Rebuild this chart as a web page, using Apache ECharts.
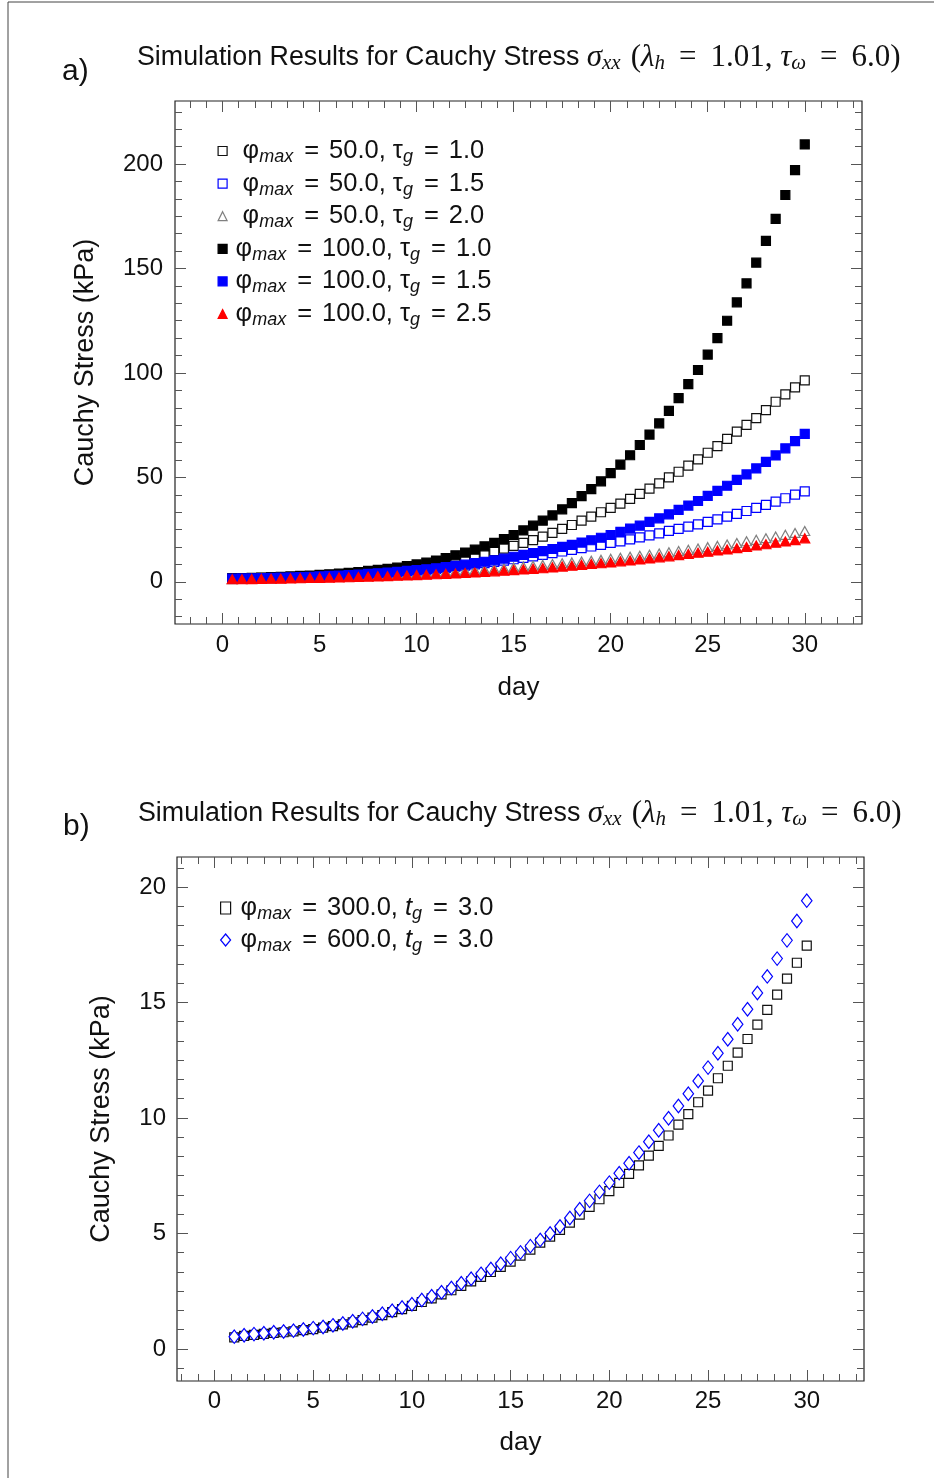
<!DOCTYPE html>
<html><head><meta charset="utf-8">
<script src="https://cdn.jsdelivr.net/npm/echarts@6/dist/echarts.min.js"></script>
<style>html,body{margin:0;padding:0;background:#fff}#c{width:934px;height:1478px}</style>
</head><body><div id="c"></div>
<script>
// ---------- DATA ----------
const daysA = [0.5,1,1.5,2,2.5,3,3.5,4,4.5,5,5.5,6,6.5,7,7.5,8,8.5,9,9.5,10,
  10.5,11,11.5,12,12.5,13,13.5,14,14.5,15,15.5,16,16.5,17,17.5,18,18.5,19,19.5,20,
  20.5,21,21.5,22,22.5,23,23.5,24,24.5,25,25.5,26,26.5,27,27.5,28,28.5,29,29.5,30];
// phi_max = 50.0, tau_g = 1.0 (open black squares)
const a_50_10 = [1.6,1.7,1.8,1.9,2.0,2.1,2.3,2.5,2.7,2.9, 3.1,3.4,3.7,4.1,4.5,4.9,5.4,5.9,6.5,7.2,
  7.9,8.7,9.5,10.4,11.4,12.4,13.5,14.7,15.9,17.2, 18.6,20.0,21.6,23.4,25.3,27.2,29.3,31.2,33.3,35.4,
  37.4,39.7,42.1,44.6,47.1,50.0,52.7,55.6,58.6,61.8, 65.0,68.4,71.9,75.1,78.4,82.2,86.2,89.7,93.1,96.4];
// phi_max = 50.0, tau_g = 1.5 (open blue squares)
const a_50_15 = [1.4,1.5,1.6,1.7,1.8,1.9,2.0,2.2,2.3,2.5, 2.7,2.9,3.2,3.4,3.7,4.0,4.3,4.6,5.0,5.4,
  5.8,6.2,6.7,7.2,7.7,8.3,8.9,9.5,10.1,10.8, 11.5,12.2,12.9,13.7,14.5,15.3,16.1,16.9,17.7,18.6,
  19.4,20.3,21.3,22.2,23.2,24.4,25.3,26.4,27.5,28.7, 29.9,31.2,32.5,33.9,35.4,36.8,38.4,40.0,41.7,43.3];
// phi_max = 50.0, tau_g = 2.0 (open gray triangles)
const a_50_20 = [1.3,1.4,1.45,1.5,1.6,1.7,1.8,1.9,2.0,2.2, 2.3,2.4,2.6,2.7,2.9,3.1,3.3,3.5,3.7,3.9,
  4.2,4.4,4.7,5.0,5.3,5.6,5.9,6.2,6.5,6.9, 7.3,7.7,8.1,8.5,8.9,9.3,9.7,10.1,10.5,11.0,
  11.5,12.0,12.5,13.0,13.5,14.1,14.7,15.3,15.9,16.6, 17.2,17.9,18.6,19.4,20.1,20.9,21.7,22.5,23.4,24.3];
// phi_max = 100.0, tau_g = 1.0 (filled black squares)
const a_100_10 = [1.7,1.8,1.9,2.0,2.2,2.4,2.6,2.8,3.0,3.3, 3.6,3.9,4.3,4.7,5.2,5.7,6.2,6.8,7.5,8.3,
  9.2,10.2,11.4,12.7,14.0,15.4,17.0,18.6,20.5,22.4, 24.6,26.9,29.3,31.8,34.7,37.7,41.0,44.4,48.1,52.0,
  56.1,60.6,65.5,70.5,75.9,81.8,87.9,94.6,101.4,108.8, 116.7,125.0,133.8,142.9,152.8,163.2,173.8,185.2,197.1,209.4];
// phi_max = 100.0, tau_g = 1.5 (filled blue squares)
const a_100_15 = [1.5,1.6,1.7,1.8,1.9,2.0,2.1,2.3,2.4,2.6, 2.8,3.0,3.2,3.5,3.8,4.1,4.4,4.8,5.2,5.6,
  6.0,6.5,7.0,7.6,8.2,8.9,9.6,10.3,11.1,12.0, 12.9,13.8,14.7,15.7,16.7,17.7,18.8,19.9,21.1,22.4,
  23.9,25.5,26.9,28.7,30.4,32.3,34.4,36.5,38.7,41.1, 43.5,46.0,48.8,51.4,54.3,57.4,60.5,63.9,67.4,70.8];
// phi_max = 100.0, tau_g = 2.5 (filled red triangles)
const a_100_25 = [1.2,1.25,1.3,1.4,1.45,1.5,1.6,1.7,1.8,1.9, 2.0,2.1,2.2,2.3,2.4,2.6,2.7,2.9,3.0,3.2,
  3.4,3.6,3.8,4.0,4.2,4.5,4.7,5.0,5.3,5.6, 5.9,6.2,6.5,6.9,7.3,7.7,8.1,8.5,8.9,9.3,
  9.8,10.2,10.7,11.2,11.7,12.2,12.8,13.3,13.9,14.4, 15.0,15.5,16.1,16.7,17.4,18.0,18.7,19.3,19.95,20.8];

const daysB = [1,1.5,2,2.5,3,3.5,4,4.5,5,5.5,6,6.5,7,7.5,8,8.5,9,9.5,10,10.5,
  11,11.5,12,12.5,13,13.5,14,14.5,15,15.5,16,16.5,17,17.5,18,18.5,19,19.5,20,20.5,
  21,21.5,22,22.5,23,23.5,24,24.5,25,25.5,26,26.5,27,27.5,28,28.5,29,29.5,30];
// phi_max = 300.0, t_g = 3.0 (open black squares)
const b_300 = [0.50,0.56,0.61,0.65,0.69,0.72,0.76,0.81,0.86,0.92, 0.99,1.06,1.15,1.25,1.35,1.46,1.59,1.72,1.86,2.03,
  2.19,2.36,2.54,2.73,2.92,3.12,3.33,3.55,3.78,4.04, 4.30,4.60,4.86,5.15,5.47,5.81,6.15,6.48,6.83,7.19,
  7.58,7.95,8.37,8.79,9.24,9.71,10.17,10.68,11.18,11.72, 12.26,12.83,13.42,14.04,14.68,15.34,16.03,16.72,17.46];
// phi_max = 600.0, t_g = 3.0 (open blue diamonds)
const b_600 = [0.53,0.59,0.64,0.68,0.72,0.75,0.79,0.84,0.90,0.95, 1.02,1.10,1.20,1.30,1.40,1.52,1.65,1.79,1.93,2.12,
  2.28,2.45,2.64,2.84,3.04,3.25,3.46,3.69,3.93,4.18, 4.45,4.72,5.00,5.30,5.67,6.05,6.41,6.80,7.20,7.61,
  8.04,8.50,8.97,9.47,9.99,10.52,11.05,11.60,12.18,12.80, 13.41,14.06,14.71,15.41,16.13,16.90,17.69,18.53,19.41];

const xTicks = [0,5,10,15,20,25,30];
const yTicksA = [0,50,100,150,200];
const yTicksB = [0,5,10,15,20];
const namesA = ['50.0|1.0','50.0|1.5','50.0|2.0','100.0|1.0','100.0|1.5','100.0|2.5'];
const namesB = ['300.0|3.0','600.0|3.0'];
const xName = 'day';
const yName = 'Cauchy Stress (kPa)';

// ---------- HELPERS ----------
const SANS = "'Liberation Sans', Arial, sans-serif";
const SERIF = "'Liberation Serif', 'Times New Roman', serif";
function minors(step, lo, hi) {
  const out = [];
  const sub = step / 6;
  for (let k = Math.ceil(lo / sub); k * sub <= hi; k++) {
    if (k % 6 !== 0) out.push(+(k * sub).toFixed(4));
  }
  return out;
}
function axis(grid, pos, min, max, ticks, len, labels, extra) {
  return Object.assign({
    type: 'value', gridIndex: grid, position: pos, min: min, max: max,
    axisLine: {show: false, onZero: false}, splitLine: {show: false},
    axisTick: {show: true, inside: true, length: len, customValues: ticks,
      lineStyle: {color: '#555', width: 1}},
    axisLabel: labels ? {show: true, customValues: ticks, fontFamily: SANS, fontSize: 24,
      color: '#111', margin: 10} : {show: false}
  }, extra || {});
}
const pair = (xs, ys) => xs.map((x, i) => [x, ys[i]]);

const XA = [-2.45, 32.95], YA = [-20.2, 230.2];
const XB = [-1.9, 32.9], YB = [-1.39, 21.3];

const nameStyle = {fontFamily: SANS, fontSize: 26, color: '#111'};
const yNameStyle = {fontFamily: SANS, fontSize: 27, color: '#111'};
const xAxes = [
  axis(0, 'bottom', XA[0], XA[1], xTicks, 11, true, {name: xName, nameLocation: 'middle', nameGap: 51, nameTextStyle: nameStyle}),
  axis(0, 'top', XA[0], XA[1], xTicks, 11, false),
  axis(1, 'bottom', XA[0], XA[1], minors(5, XA[0], XA[1]), 7, false),
  axis(1, 'top', XA[0], XA[1], minors(5, XA[0], XA[1]), 7, false),
  axis(2, 'bottom', XB[0], XB[1], xTicks, 11, true, {name: xName, nameLocation: 'middle', nameGap: 49, nameTextStyle: nameStyle}),
  axis(2, 'top', XB[0], XB[1], xTicks, 11, false),
  axis(3, 'bottom', XB[0], XB[1], minors(5, XB[0], XB[1]), 7, false),
  axis(3, 'top', XB[0], XB[1], minors(5, XB[0], XB[1]), 7, false)
];
xAxes[0].axisLabel.margin = 9; xAxes[4].axisLabel.margin = 8;
const yAxes = [
  axis(0, 'left', YA[0], YA[1], yTicksA, 11, true, {name: yName, nameLocation: 'middle', nameRotate: 90, nameGap: 76, nameTextStyle: yNameStyle}),
  axis(0, 'right', YA[0], YA[1], yTicksA, 11, false),
  axis(1, 'left', YA[0], YA[1], minors(50, YA[0], YA[1]), 7, false),
  axis(1, 'right', YA[0], YA[1], minors(50, YA[0], YA[1]), 7, false),
  axis(2, 'left', YB[0], YB[1], yTicksB, 11, true, {name: yName, nameLocation: 'middle', nameRotate: 90, nameGap: 62, nameTextStyle: yNameStyle}),
  axis(2, 'right', YB[0], YB[1], yTicksB, 11, false),
  axis(3, 'left', YB[0], YB[1], minors(5, YB[0], YB[1]), 7, false),
  axis(3, 'right', YB[0], YB[1], minors(5, YB[0], YB[1]), 7, false)
];
yAxes[0].axisLabel.margin = 12; yAxes[4].axisLabel.margin = 11;

function sc(name, xi, data, symbol, size, fill, stroke) {
  return {type: 'scatter', name: name, xAxisIndex: xi, yAxisIndex: xi, data: data,
    symbol: symbol, symbolSize: size, animation: false, silent: true,
    itemStyle: {color: fill, borderColor: stroke, borderWidth: 1.2, opacity: 1}};
}
const series = [
  sc(namesA[0], 0, pair(daysA, a_50_10), 'rect', 9, '#fff', '#111'),
  sc(namesA[1], 0, pair(daysA, a_50_15), 'rect', 9, '#fff', '#0000ff'),
  sc(namesA[2], 0, pair(daysA, a_50_20), 'triangle', [10, 9], '#fff', '#808080'),
  sc(namesA[3], 0, pair(daysA, a_100_10), 'rect', 9, '#000', '#000'),
  sc(namesA[4], 0, pair(daysA, a_100_15), 'rect', 9, '#0000ff', '#0000ff'),
  sc(namesA[5], 0, pair(daysA, a_100_25), 'triangle', [10, 9], '#ff0000', '#ff0000'),
  sc(namesB[0], 4, pair(daysB, b_300), 'rect', 9, '#fff', '#111'),
  sc(namesB[1], 4, pair(daysB, b_600), 'diamond', [10.5, 13.5], '#fff', '#0000ff')
];

const LH = 30;
const legRich = {
  n: {fontFamily: SANS, fontSize: 25.5, color: '#111', lineHeight: LH},
  ni: {fontFamily: SANS, fontSize: 25.5, fontStyle: 'italic', color: '#111', lineHeight: LH},
  e: {fontFamily: SANS, fontSize: 25.5, color: '#111', lineHeight: LH, padding: [0, 10, 0, 11]},
  s: {fontFamily: SANS, fontSize: 18, fontStyle: 'italic', color: '#111', lineHeight: 15, verticalAlign: 'bottom'},
  p1: {width: 3.5, lineHeight: LH},
  p2: {width: 10.5, lineHeight: LH},
  p3: {width: 5, lineHeight: LH}
};
function legFmtA(name) {
  const [phi, tg] = name.split('|');
  const pad = phi === '50.0' ? 'p2' : 'p1';
  return '{' + pad + '|}{n|φ}{s|max}{e|=}{n|' + phi + ', τ}{s|g}{e|=}{n|' + tg + '}';
}
function legFmtB(name) {
  const [phi, tg] = name.split('|');
  return '{p3|}{n|φ}{s|max}{e|=}{n|' + phi + ', }{ni|t}{s|g}{e|=}{n|' + tg + '}';
}

const titleRich = {
  s: {fontFamily: SANS, fontSize: 26.8, fontWeight: 'normal', color: '#111', lineHeight: 32},
  mi: {fontFamily: SERIF, fontSize: 31, fontStyle: 'italic', fontWeight: 'normal', color: '#111', lineHeight: 32},
  ms: {fontFamily: SERIF, fontSize: 21, fontStyle: 'italic', fontWeight: 'normal', color: '#111', lineHeight: 17, verticalAlign: 'bottom'},
  r: {fontFamily: SERIF, fontSize: 31, fontWeight: 'normal', color: '#111', lineHeight: 32},
  o: {fontFamily: SERIF, fontSize: 31, fontWeight: 'normal', color: '#111', lineHeight: 32, padding: [0, 0, 0, 10]},
  e: {fontFamily: SERIF, fontSize: 31, fontWeight: 'normal', color: '#111', lineHeight: 32, padding: [0, 14, 0, 14]}
};
const titleText = '{s|Simulation Results for Cauchy Stress }{mi|σ}{ms|xx}{o|(}{mi|λ}{ms|h}{e|=}{r|1.01, }{mi|τ}{ms|ω}{e|=}{r|6.0)}';

const option = {
  backgroundColor: '#fff',
  animation: false,
  title: [
    {text: titleText, left: 137, top: 42, padding: 0, textStyle: {fontWeight: 'normal', rich: titleRich}},
    {text: titleText, left: 138, top: 798, padding: 0, textStyle: {fontWeight: 'normal', rich: titleRich}},
    {text: 'a)', left: 62, top: 57, padding: 0, textStyle: {fontFamily: SANS, fontSize: 30, fontWeight: 'normal', color: '#111'}},
    {text: 'b)', left: 63, top: 812, padding: 0, textStyle: {fontFamily: SANS, fontSize: 30, fontWeight: 'normal', color: '#111'}}
  ],
  grid: [
    {left: 175, top: 101, width: 687, height: 523, show: true, borderColor: '#222', borderWidth: 1.2, backgroundColor: 'transparent'},
    {left: 175, top: 101, width: 687, height: 523, show: false},
    {left: 177, top: 857, width: 687, height: 524, show: true, borderColor: '#222', borderWidth: 1.2, backgroundColor: 'transparent'},
    {left: 177, top: 857, width: 687, height: 524, show: false}
  ],
  xAxis: xAxes,
  yAxis: yAxes,
  legend: [
    {data: namesA, left: 217.5, top: 138, orient: 'vertical', padding: 0, itemWidth: 9, itemHeight: 9, itemGap: 4.6,
      selectedMode: false, formatter: legFmtA, itemStyle: {borderWidth: 1.2}, textStyle: {rich: legRich}},
    {data: namesB, left: 220, top: 895, orient: 'vertical', padding: 0, itemWidth: 10, itemHeight: 12, itemGap: 4,
      selectedMode: false, formatter: legFmtB, itemStyle: {borderWidth: 1.2}, textStyle: {rich: legRich}}
  ],
  graphic: [
    {type: 'line', shape: {x1: 8, y1: 2, x2: 934, y2: 2}, style: {stroke: '#444', lineWidth: 1}},
    {type: 'line', shape: {x1: 8, y1: 2, x2: 8, y2: 1478}, style: {stroke: '#444', lineWidth: 1}}
  ],
  series: series
};
const chart = echarts.init(document.getElementById('c'), null, {renderer: 'canvas'});
chart.setOption(option);
</script></body></html>
